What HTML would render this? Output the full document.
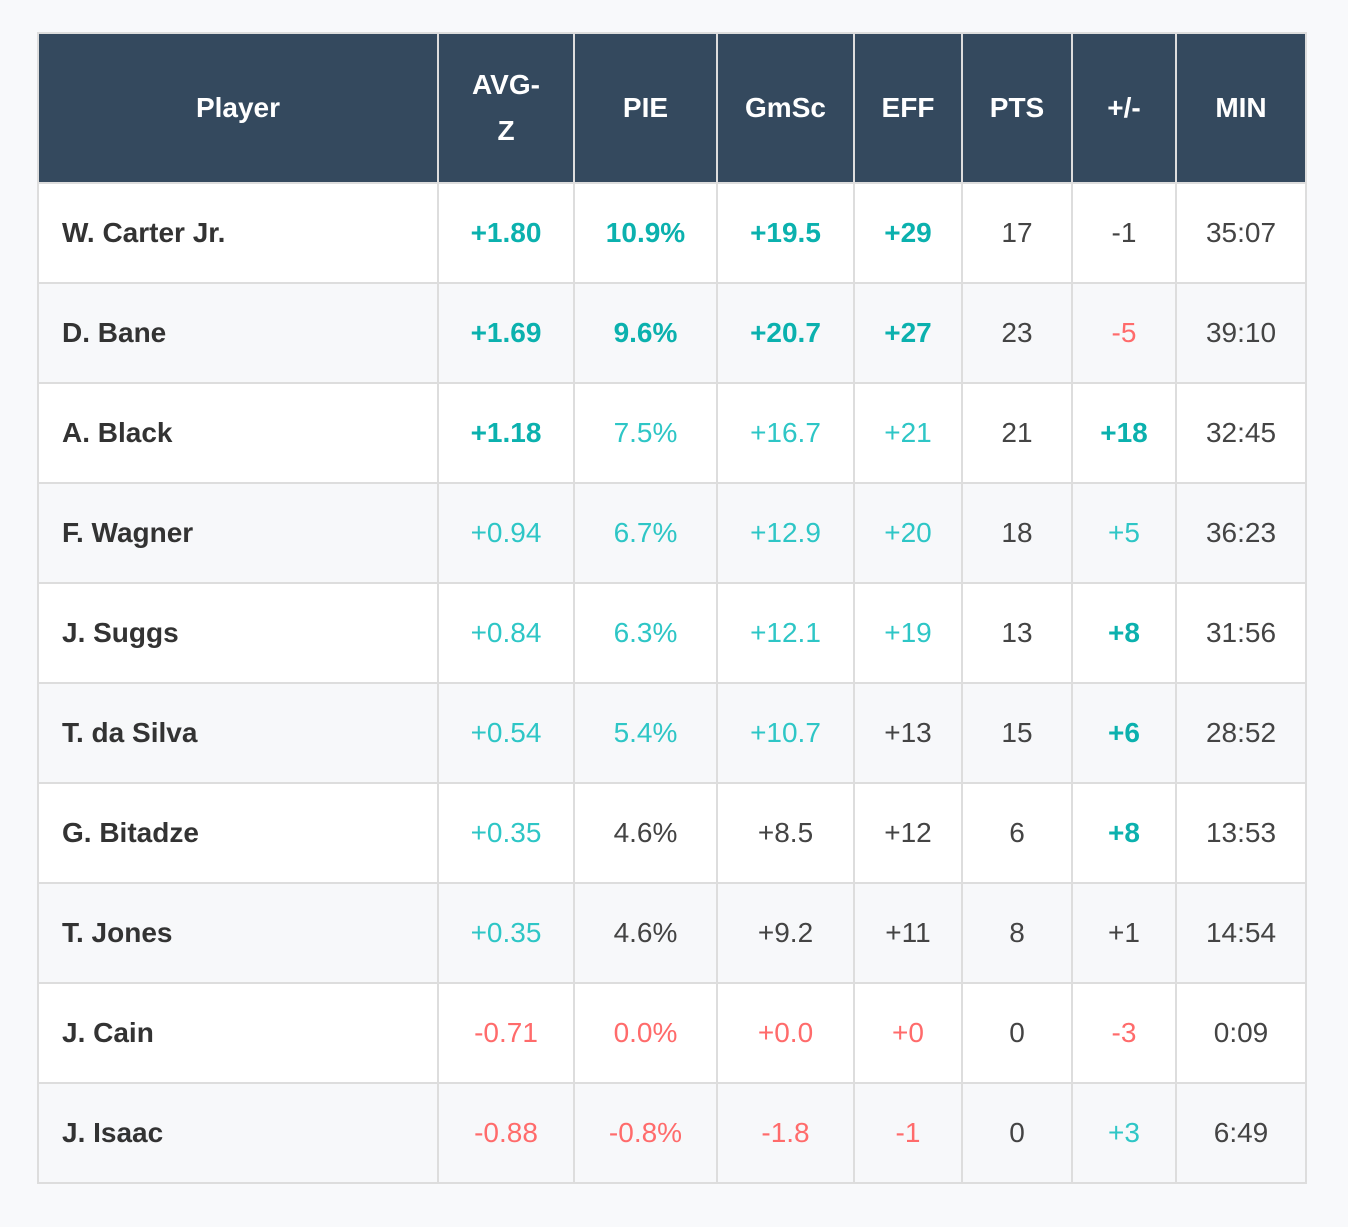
<!DOCTYPE html>
<html><head><meta charset="utf-8"><style>
html,body{margin:0;padding:0;background:#f8f9fb;width:1348px;height:1227px;overflow:hidden}
table{position:absolute;left:37px;top:32px;border-collapse:collapse;font-family:"Liberation Sans",sans-serif;font-size:28px;table-layout:fixed}
td,th{border:2px solid #dddddd;text-align:center;padding:0;color:#444}
th{background:#34495e;color:#fff;font-weight:bold;height:148px;line-height:46px}
td{height:98px}
tr:nth-child(even) td{background:#f7f8fa}
tr:nth-child(odd) td{background:#fff}
td.nm{text-align:left;padding-left:23px;font-weight:bold;color:#333}
.b{color:#0bb1ae;font-weight:bold}.t{color:#2ec6c6}.r{color:#ff6b6b}.n{color:#444}
</style></head><body>
<table>
<colgroup><col style="width:400px"><col style="width:136px"><col style="width:143px"><col style="width:137px"><col style="width:108px"><col style="width:110px"><col style="width:104px"><col style="width:130px"></colgroup>
<thead><tr>
<th>Player</th>
<th>AVG-<br>Z</th>
<th>PIE</th>
<th>GmSc</th>
<th>EFF</th>
<th>PTS</th>
<th>+/-</th>
<th>MIN</th>
</tr></thead>
<tbody id="tb"></tbody></table>
<script>
const names=["W. Carter Jr.","D. Bane","A. Black","F. Wagner","J. Suggs","T. da Silva","G. Bitadze","T. Jones","J. Cain","J. Isaac"];
const avgz=[["+1.80","b"],["+1.69","b"],["+1.18","b"],["+0.94","t"],["+0.84","t"],["+0.54","t"],["+0.35","t"],["+0.35","t"],["-0.71","r"],["-0.88","r"]];
const pie=[["10.9%","b"],["9.6%","b"],["7.5%","t"],["6.7%","t"],["6.3%","t"],["5.4%","t"],["4.6%","n"],["4.6%","n"],["0.0%","r"],["-0.8%","r"]];
const gmsc=[["+19.5","b"],["+20.7","b"],["+16.7","t"],["+12.9","t"],["+12.1","t"],["+10.7","t"],["+8.5","n"],["+9.2","n"],["+0.0","r"],["-1.8","r"]];
const eff=[["+29","b"],["+27","b"],["+21","t"],["+20","t"],["+19","t"],["+13","n"],["+12","n"],["+11","n"],["+0","r"],["-1","r"]];
const pts=[["17","n"],["23","n"],["21","n"],["18","n"],["13","n"],["15","n"],["6","n"],["8","n"],["0","n"],["0","n"]];
const pm=[["-1","n"],["-5","r"],["+18","b"],["+5","t"],["+8","b"],["+6","b"],["+8","b"],["+1","n"],["-3","r"],["+3","t"]];
const mins=[["35:07","n"],["39:10","n"],["32:45","n"],["36:23","n"],["31:56","n"],["28:52","n"],["13:53","n"],["14:54","n"],["0:09","n"],["6:49","n"]];
const cols=[[avgz,"avg-z"],[pie,"pie"],[gmsc,"gmsc"],[eff,"eff"],[pts,"pts"],[pm,"plus-minus"],[mins,"min"]];
const tb=document.getElementById('tb');
names.forEach((n,i)=>{
  const tr=document.createElement('tr');
  
  
  const td=document.createElement('td');td.className='nm';td.textContent=n;
  
  
  tr.appendChild(td);
  cols.forEach(([arr,key])=>{
    const c=document.createElement('td');c.textContent=arr[i][0];c.className=arr[i][1];
    
    
    tr.appendChild(c);
  });
  tb.appendChild(tr);
});
</script>
</body></html>
